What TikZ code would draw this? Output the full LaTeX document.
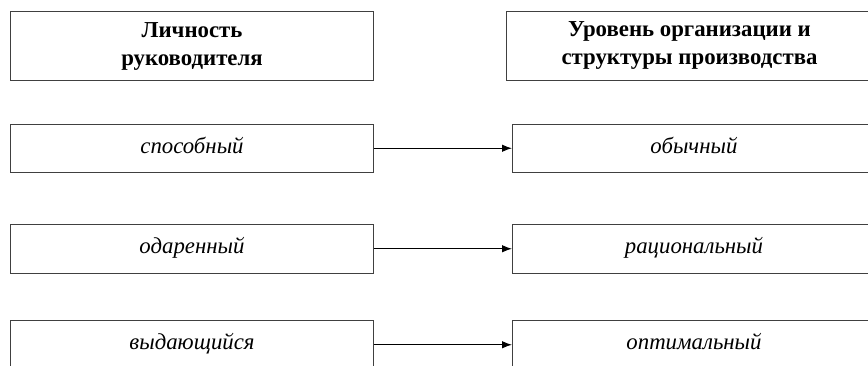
\documentclass[tikz,border=0pt]{standalone}
\usepackage{fontspec}
\setmainfont{Liberation Serif}
\usepackage{tikz}
\usetikzlibrary{arrows.meta}
\tikzset{>={Latex[length=10pt,width=7.5pt]}}
\tikzset{
  headbox/.style={draw=black!75, line width=1pt, anchor=north west, inner sep=0pt,
    minimum width=363pt, minimum height=69pt, align=center,
    font=\bfseries\fontsize{22.8}{28}\selectfont},
  rowbox/.style={draw=black!75, line width=1pt, anchor=north west, inner sep=0pt,
    minimum width=363pt, minimum height=48.5pt, text height=15pt, text depth=5pt,
    font=\itshape\fontsize{22.8}{26}\selectfont},
  link/.style={->, line width=1pt}
}

\begin{document}
\begin{tikzpicture}[x=1pt,y=1pt]
            \clip (0,0) rectangle (868,-365);
            % headers
            \node[headbox] (lead) at (10,-11) {Личность\\руководителя};
            \node[headbox, minimum width=366pt, minimum height=68.5pt] (org) at (506,-11) {Уровень организации и\\структуры производства};
            % left column
            \node[rowbox] (able) at (10,-123.5) {способный};
            \node[rowbox] (gifted) at (10,-224) {одаренный};
            \node[rowbox] (great) at (10,-320) {выдающийся};
            % right column
            \node[rowbox] (usual) at (512,-123.5) {обычный};
            \node[rowbox] (ration) at (512,-224) {рациональный};
            \node[rowbox] (optim) at (512,-320) {оптимальный};
            % arrows
            \draw[link] (able) -- (usual);
            \draw[link] (gifted) -- (ration);
            \draw[link] (great) -- (optim);
        \end{tikzpicture}
\end{document}
